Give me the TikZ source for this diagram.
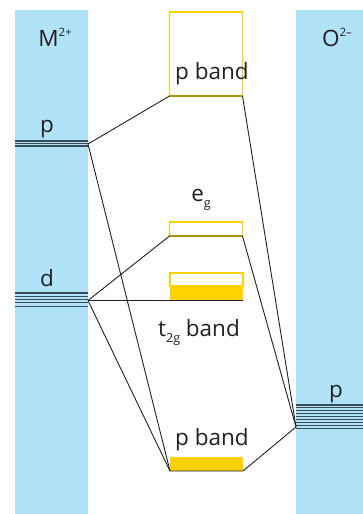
\documentclass[tikz,border=0pt]{standalone}
\usepackage{fontspec}
\setmainfont{Open Sans}
\definecolor{colblue}{HTML}{B0E2F8}
\definecolor{colyel}{HTML}{FFD200}
\definecolor{colink}{HTML}{231F20}
\definecolor{collev}{HTML}{3A4C58}
\newcommand{\supx}[1]{\raisebox{0.75ex}{\fontsize{11.5}{12}\selectfont #1}}
\newcommand{\subx}[1]{\raisebox{-0.55ex}{\fontsize{12.5}{12}\selectfont #1}}
\tikzset{
  level/.style={draw=collev, line width=1.1pt},
  conn/.style={draw=colink, line width=0.9pt, line join=miter},
  bandbox/.style={draw=colyel, line width=1.8pt, minimum width=73pt, inner sep=0pt, outer sep=0pt},
  lbl/.style={text=colink, font=\fontsize{22.5}{26}\selectfont, inner sep=0pt, anchor=base}
}
\begin{document}
\begin{tikzpicture}[x=1pt,y=-1pt]
\useasboundingbox (0,0) rectangle (363,514);
% columns
\fill[colblue] (15,10) rectangle (88,514);
\fill[colblue] (296,10) rectangle (363,514);
% levels
\foreach \y in {141,143.5,146} \draw[level] (15,\y) -- (88,\y);
\foreach \y in {293,296.3,299.6,302.9,306.2} \draw[level] (15,\y) -- (88,\y);
\foreach \i in {0,...,8} \draw[level] (296,405+\i*2.9) -- (363,405+\i*2.9);
% junctions
\coordinate (Mp) at (88,144);
\coordinate (Md) at (88,300.5);
\coordinate (Op) at (296,427);
% bands
\node[bandbox, minimum height=84pt] (pt) at (206,54) {};
\node[bandbox, minimum height=14pt] (eg) at (206,229) {};
\fill[colyel] (170,286) rectangle (243,300);
\node[bandbox, minimum height=13pt] (t2top) at (206.5,279.5) {};
\coordinate (t2) at (243,300.5);
\fill[colyel] (170,457) rectangle (243,471);
\coordinate (pbw) at (170,471);
\coordinate (pbe) at (243,471);
% connectors
\draw[conn] (Mp) -- (pt.south west) -- (pt.south east) -- (Op);
\draw[conn] (Md) -- (eg.south west) -- (eg.south east) -- (Op);
\draw[conn] (Md) -- (t2);
\draw[conn] (Mp) -- (pbw) -- (pbe) -- (Op);
\draw[conn] (Md) -- (pbw);
% labels
\node[lbl] (lM) at (55,46) {M\supx{2+}};
\node[lbl] (lO) at (337,46) {O\supx{2–}};
\node[lbl] (lpl) at (47,132) {p};
\node[lbl] (ld) at (47,286) {d};
\node[lbl] (lpr) at (336,397) {p};
\node[lbl] (lpt) at (212,79) {p band};
\node[lbl] (leg) at (201,201) {e\subx{g}};
\node[lbl] (lt2) at (199,336) {t\subx{2g} band};
\node[lbl] (lpb) at (212,445) {p band};
\end{tikzpicture}
\end{document}
